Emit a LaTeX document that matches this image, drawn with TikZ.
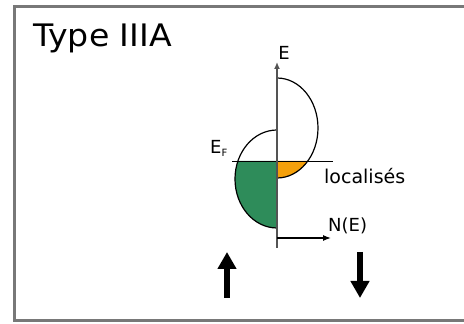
\documentclass[tikz,border=0pt]{standalone}
\usepackage{fontspec}
\setmainfont{DejaVu Sans}
\usetikzlibrary{arrows.meta}
\definecolor{bandgreen}{RGB}{46,140,90}
\definecolor{bandorange}{RGB}{245,160,10}
\definecolor{framegray}{RGB}{120,120,120}
\tikzset{
    axisline/.style={draw=framegray!70!black, line width=1.8pt},
    band/.style={draw=black, line width=1.2pt},
    spinarrow/.style={line width=6.5pt, -{Triangle[length=17pt,width=18pt]}},
    axlabel/.style={font=\fontsize{18}{20}\selectfont, inner sep=1pt}
}

\begin{document}
\begin{tikzpicture}[x=1pt,y=1pt]
            \useasboundingbox (0,0) rectangle (464,324);
            \draw[framegray, line width=3pt] (14,3) rectangle (480,317);

            \node[anchor=base west, font=\fontsize{31}{34}\selectfont, xscale=1.07, inner sep=0pt] (title) at (33,277) {Type IIIA};

            % fills
            \fill[bandgreen] (277,163) -- (237.9,163) arc[start angle=158.45, end angle=270, x radius=42, y radius=49] -- cycle;
            \fill[bandorange] (277,163) -- (307.8,163) arc[start angle=-41.3, end angle=-90, x radius=41, y radius=50] -- cycle;

            % density of states
            \draw[band] (277,246) arc[start angle=90, end angle=-90, x radius=41, y radius=50];
            \draw[band] (277,194) arc[start angle=90, end angle=270, x radius=42, y radius=49];

            % Fermi level
            \coordinate (efl) at (232,163);
            \coordinate (efr) at (333,163);
            \draw[line width=0.9pt] (efl) -- (efr);
            \node[axlabel, anchor=base] (ef) at (219,170) {E\textsubscript{\fontsize{10}{11}\selectfont F}};
            \node[font=\fontsize{19}{21}\selectfont, anchor=base west, inner sep=0pt] (loc) at (324,140) {localisés};

            % axes
            \coordinate (o) at (277,76);
            \coordinate (etop) at (277,262);
            \coordinate (nend) at (331,86);
            \draw[axisline, -{Latex[length=7pt,width=6pt]}] (o) -- (etop);
            \draw[axisline, draw=black, line width=1.2pt, -{Latex[length=8pt,width=6pt]}] (o |- nend) -- (nend);
            \node[axlabel, anchor=south] (elab) at ([xshift=7pt,yshift=1pt]etop) {E};
            \node[axlabel, anchor=south west] (nlab) at (327,89) {N(E)};

            % spins
            \coordinate (upa) at (227,26);
            \coordinate (upb) at (227,72);
            \coordinate (dna) at (360,72);
            \coordinate (dnb) at (360,26);
            \draw[spinarrow] (upa) -- (upb);
            \draw[spinarrow] (dna) -- (dnb);
        \end{tikzpicture}
\end{document}
